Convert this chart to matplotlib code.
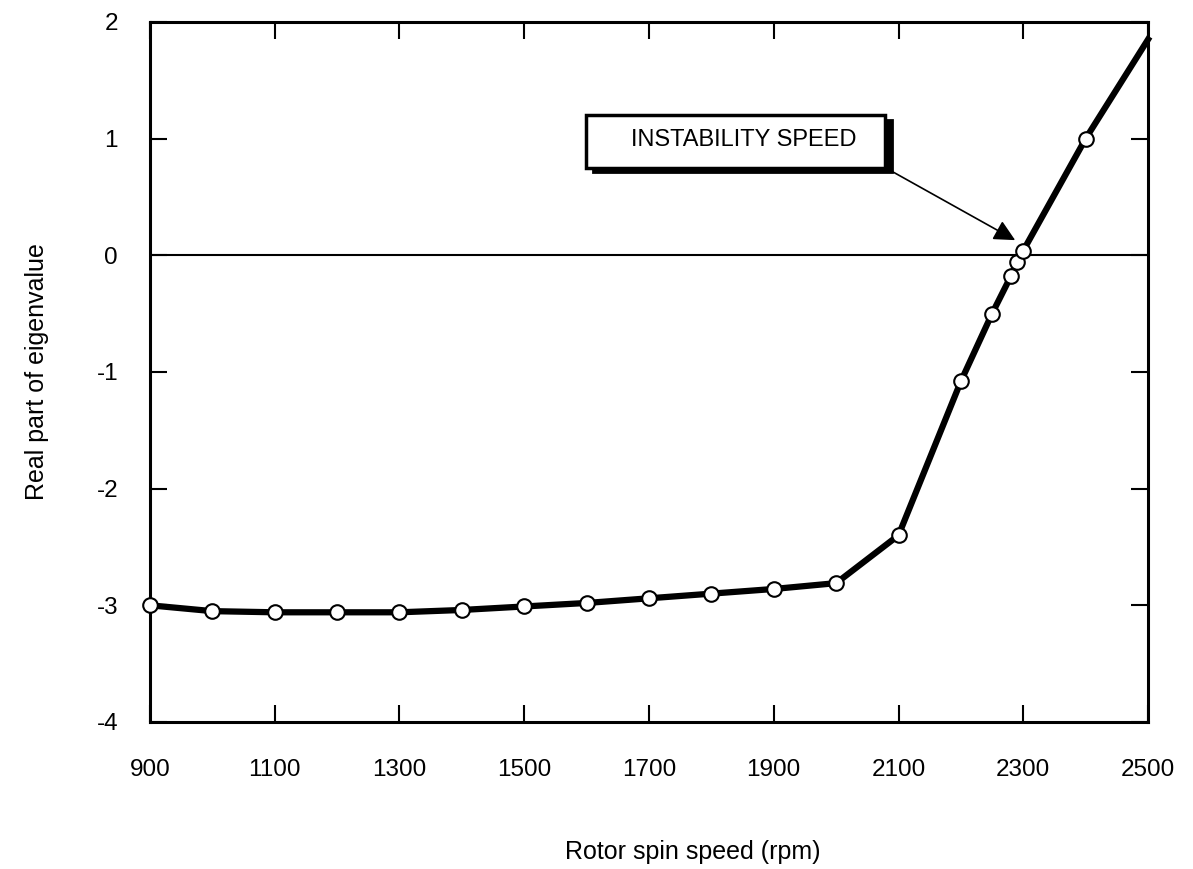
import matplotlib
matplotlib.use("Agg")
import matplotlib.pyplot as plt
import numpy as np

speed = [900, 1000, 1100, 1200, 1300, 1400, 1500, 1600, 1700, 1800, 1900, 2000,
         2100, 2200, 2250, 2280, 2290, 2300, 2400, 2500]
real_part = [-3.0, -3.05, -3.06, -3.06, -3.06, -3.04, -3.01, -2.98, -2.94, -2.90, -2.86, -2.81,
             -2.40, -1.08, -0.50, -0.18, -0.06, 0.04, 1.0, 1.85]
xticks = [900, 1100, 1300, 1500, 1700, 1900, 2100, 2300, 2500]
yticks = [-4, -3, -2, -1, 0, 1, 2]

plt.rcParams['font.family'] = ['Liberation Sans', 'DejaVu Sans']
plt.rcParams['axes.unicode_minus'] = False

fig = plt.figure(figsize=(11.93, 8.69), dpi=100)
ax = fig.add_axes([0.1257, 0.1692, 0.8366, 0.8055])

ax.axhline(0, color='black', lw=1.5, zorder=1)
ax.plot(speed, real_part, color='black', lw=4.5, marker='o', markersize=10.5,
        markerfacecolor='white', markeredgecolor='black', markeredgewidth=1.5,
        markevery=list(range(len(speed) - 1)), zorder=3, clip_on=False)

ax.set_xlim(900, 2500)
ax.set_ylim(-4, 2)
ax.set_xticks(xticks)
ax.set_yticks(yticks)
ax.tick_params(direction='in', length=12, width=1.5, top=True, right=True,
               labelsize=17.5)
ax.tick_params(axis='x', pad=27)
ax.tick_params(axis='y', pad=23)
for s in ax.spines.values():
    s.set_linewidth(2.2)

ax.set_xlabel('Rotor spin speed (rpm)', fontsize=18)
ax.xaxis.set_label_coords(0.544, -0.168)
ax.set_ylabel('Real part of eigenvalue', fontsize=18, labelpad=34)

# annotation box with drop shadow
ax.add_patch(plt.Rectangle((1610, 0.71), 480, 0.45, facecolor='black', edgecolor='black',
                           lw=2, zorder=4))
ax.add_patch(plt.Rectangle((1599, 0.75), 479, 0.45, facecolor='white', edgecolor='black',
                           lw=2.5, zorder=5))
ax.text(1852, 0.99, 'INSTABILITY SPEED', ha='center', va='center', fontsize=17, zorder=6)
ax.annotate('', xy=(2287, 0.13), xytext=(2091, 0.715),
            arrowprops=dict(arrowstyle='-|>', color='black', lw=1.2, mutation_scale=32,
                            shrinkA=0, shrinkB=0), zorder=6)

fig.savefig('out.png', dpi=100)
